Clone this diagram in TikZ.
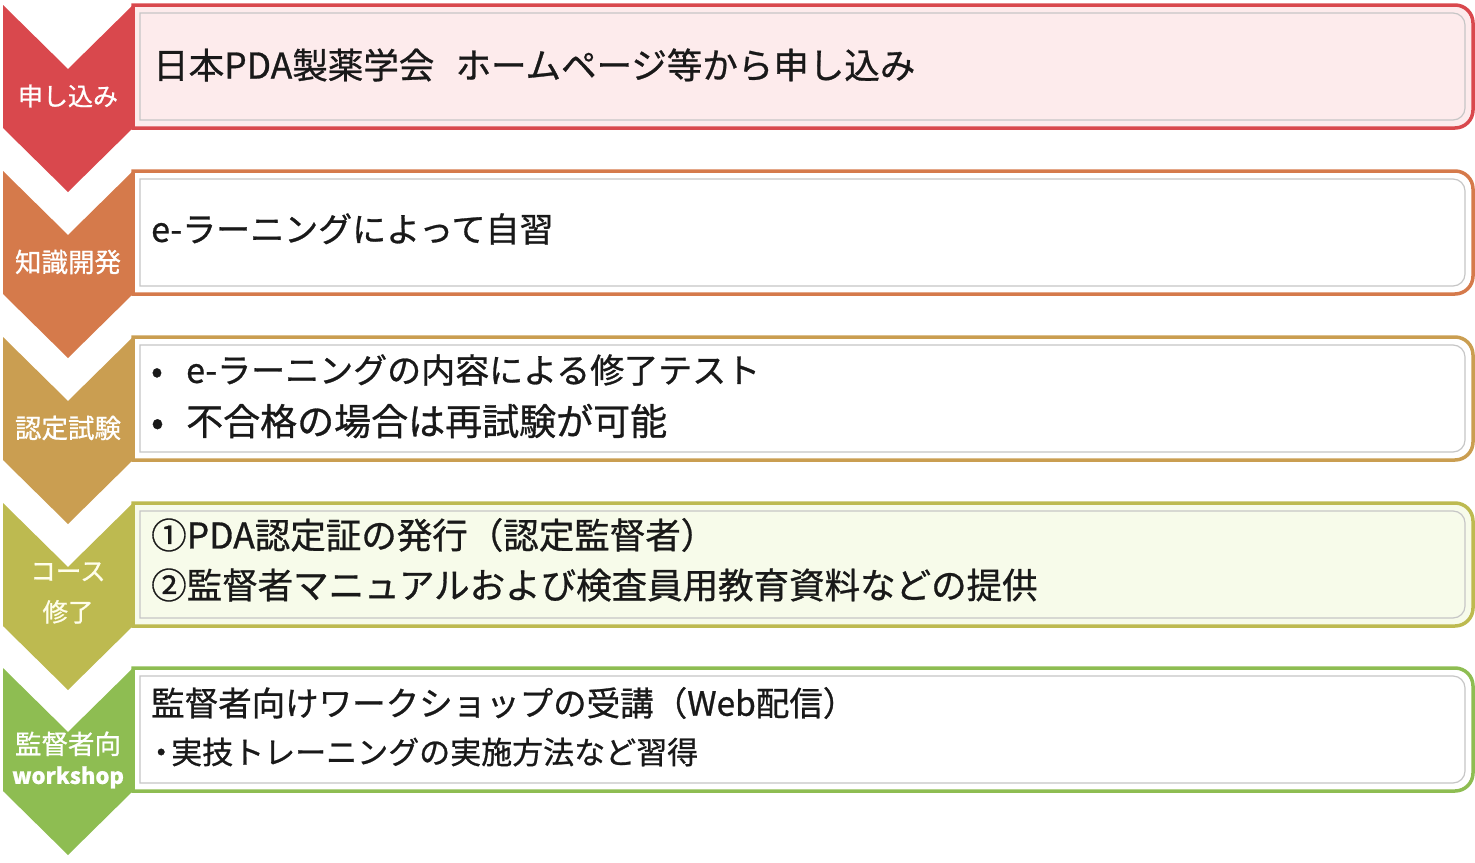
\documentclass[tikz,border=0pt]{standalone}
\usepackage{fontspec}
\setmainfont{Noto Sans CJK JP}
\newfontfamily\heavyfont{Noto Sans CJK JP}[RawFeature={embolden=0.8}]
\definecolor{stepred}{HTML}{D9484D}
\definecolor{steporange}{HTML}{D57A4B}
\definecolor{steptan}{HTML}{CA9E51}
\definecolor{stepolive}{HTML}{BDBA50}
\definecolor{stepgreen}{HTML}{8EBD52}
\definecolor{fillpink}{HTML}{FDEBEC}
\definecolor{fillcream}{HTML}{F7FBEA}

\begin{document}
\begin{tikzpicture}[x=1pt, y=-1pt,
  steplabel/.style={text=white, align=center, font=\heavyfont\fontsize{26.5}{30}\selectfont},
  body/.style={anchor=west, inner sep=0pt, text=black!90, font=\heavyfont\fontsize{35}{40}\selectfont},
  boxframe/.style={line width=3.5pt},
  boxline/.style={draw=gray!45, line width=1.2pt}]
 \useasboundingbox (0,0) rectangle (1475,862);

 % step 1
 \begin{scope}
 \draw[boxframe, draw=stepred, fill=fillpink] (133,5) -- (1455,5) arc[start angle=-90, end angle=0, radius=18] -- (1473,110) arc[start angle=0, end angle=90, radius=18] -- (133,128) -- cycle;
 \draw[boxline] (140,13) -- (1453,13) arc[start angle=-90, end angle=0, radius=12] -- (1465,108) arc[start angle=0, end angle=90, radius=12] -- (140,120) -- cycle;
 \fill[stepred] (3,5) -- (68,69) -- (133,5) -- (133,128) -- (68,192) -- (3,128) -- cycle;
 \node[steplabel, font=\heavyfont\fontsize{25}{30}\selectfont] (apply) at (68,96) {申し込み};
 \node[body, font=\heavyfont\fontsize{35.5}{40}\selectfont] (applytxt) at (153,65) {日本PDA製薬学会\hspace{0.6em}ホームページ等から申し込み};
 \end{scope}

 % step 2
 \begin{scope}[shift={(0,166)}]
 \draw[boxframe, draw=steporange, fill=white] (133,5) -- (1455,5) arc[start angle=-90, end angle=0, radius=18] -- (1473,110) arc[start angle=0, end angle=90, radius=18] -- (133,128) -- cycle;
 \draw[boxline] (140,13) -- (1453,13) arc[start angle=-90, end angle=0, radius=12] -- (1465,108) arc[start angle=0, end angle=90, radius=12] -- (140,120) -- cycle;
 \fill[steporange] (3,5) -- (68,69) -- (133,5) -- (133,128) -- (68,192) -- (3,128) -- cycle;
 \node[steplabel] (learn) at (68,96) {知識開発};
 \node[body, font=\heavyfont\fontsize{34}{40}\selectfont] (learntxt) at (151,63) {e-ラーニングによって自習};
 \end{scope}

 % step 3
 \begin{scope}[shift={(0,332)}]
 \draw[boxframe, draw=steptan, fill=white] (133,5) -- (1455,5) arc[start angle=-90, end angle=0, radius=18] -- (1473,110) arc[start angle=0, end angle=90, radius=18] -- (133,128) -- cycle;
 \draw[boxline] (140,13) -- (1453,13) arc[start angle=-90, end angle=0, radius=12] -- (1465,108) arc[start angle=0, end angle=90, radius=12] -- (140,120) -- cycle;
 \fill[steptan] (3,5) -- (68,69) -- (133,5) -- (133,128) -- (68,192) -- (3,128) -- cycle;
 \node[steplabel] (exam) at (68,96) {認定試験};
 \node[body, font=\heavyfont\fontsize{34}{40}\selectfont] (examtxta) at (151,38) {\makebox[35pt][l]{•}e-ラーニングの内容による修了テスト};
 \node[body, font=\heavyfont\fontsize{37}{40}\selectfont] (examtxtb) at (151,89) {\makebox[35pt][l]{•}不合格の場合は再試験が可能};
 \end{scope}

 % step 4
 \begin{scope}[shift={(0,498)}]
 \draw[boxframe, draw=stepolive, fill=fillcream] (133,5) -- (1455,5) arc[start angle=-90, end angle=0, radius=18] -- (1473,110) arc[start angle=0, end angle=90, radius=18] -- (133,128) -- cycle;
 \draw[boxline] (140,13) -- (1453,13) arc[start angle=-90, end angle=0, radius=12] -- (1465,108) arc[start angle=0, end angle=90, radius=12] -- (140,120) -- cycle;
 \fill[stepolive] (3,5) -- (68,69) -- (133,5) -- (133,128) -- (68,192) -- (3,128) -- cycle;
 \node[steplabel, text=white!92!yellow, font=\heavyfont\fontsize{25.5}{41}\selectfont] (done) at (68,95) {コース\\修了};
 \node[body, font=\heavyfont\fontsize{35.5}{40}\selectfont] (donetxta) at (151,37) {①PDA認定証の発行（認定監督者）};
 \node[body, font=\heavyfont\fontsize{35.5}{40}\selectfont] (donetxtb) at (151,87) {②監督者マニュアルおよび検査員用教育資料などの提供};
 \end{scope}

 % step 5
 \begin{scope}[shift={(0,663)}]
 \draw[boxframe, draw=stepgreen, fill=white] (133,5) -- (1455,5) arc[start angle=-90, end angle=0, radius=18] -- (1473,110) arc[start angle=0, end angle=90, radius=18] -- (133,128) -- cycle;
 \draw[boxline] (140,13) -- (1453,13) arc[start angle=-90, end angle=0, radius=12] -- (1465,108) arc[start angle=0, end angle=90, radius=12] -- (140,120) -- cycle;
 \fill[stepgreen] (3,5) -- (68,69) -- (133,5) -- (133,128) -- (68,192) -- (3,128) -- cycle;
 \node[steplabel] (shop) at (68,97) {監督者向\\{\fontsize{22}{30}\selectfont\bfseries workshop}};
 \node[body, font=\heavyfont\fontsize{33.5}{40}\selectfont] (shoptxta) at (151,40) {監督者向けワークショップの受講（Web配信）};
 \node[body, font=\heavyfont\fontsize{31}{40}\selectfont] (shoptxtb) at (151,89) {\makebox[20pt][c]{・}実技トレーニングの実施方法など習得};
 \end{scope}
\end{tikzpicture}
\end{document}
